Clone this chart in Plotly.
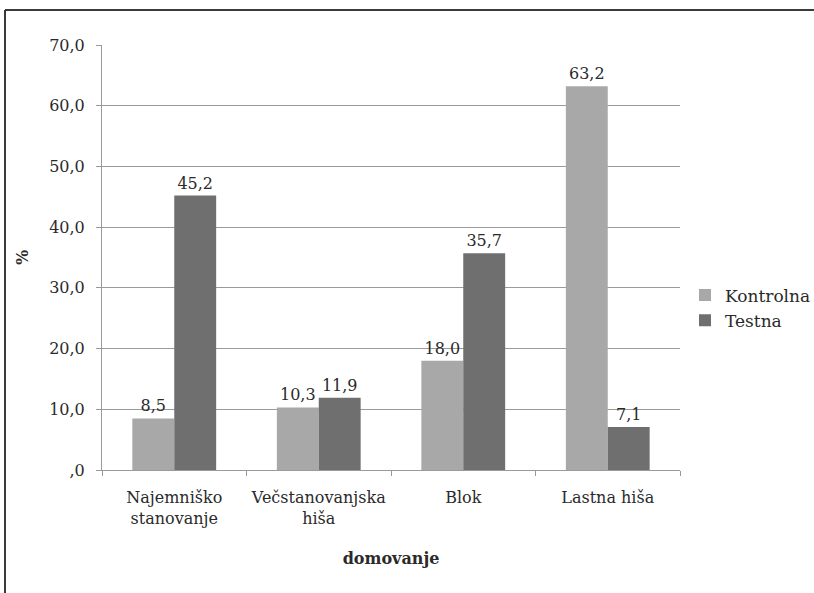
import plotly.graph_objects as go

# Housing type categories (two-line labels) and percentages per group
categories = ["Najemniško<br>stanovanje", "Večstanovanjska<br>hiša", "Blok", "Lastna hiša"]
kontrolna = [8.5, 10.3, 18.0, 63.2]
testna = [45.2, 11.9, 35.7, 7.1]
y_ticks = [0, 10, 20, 30, 40, 50, 60, 70]
y_tick_labels = [",0", "10,0", "20,0", "30,0", "40,0", "50,0", "60,0", "70,0"]


def fmt(v):
    return f"{v:.1f}".replace(".", ",")


FONT = "DejaVu Serif"
TXT = "#2a2a2a"
FS = 16

fig = go.Figure()
fig.add_trace(go.Bar(
    name="Kontrolna", x=categories, y=kontrolna, legendgroup="k",
    marker=dict(color="#a8a8a8", line=dict(width=0)),
    text=[fmt(v) for v in kontrolna], textposition="outside",
    textfont=dict(family=FONT, size=FS, color=TXT), cliponaxis=False,
))
fig.add_trace(go.Bar(
    name="Testna", x=categories, y=testna, legendgroup="t",
    marker=dict(color="#6f6f6f", line=dict(width=0)),
    text=[fmt(v) for v in testna], textposition="outside",
    textfont=dict(family=FONT, size=FS, color=TXT), cliponaxis=False,
))

# Pixel geometry of the plotting area
L, R, T, B = 102, 680, 45, 470
W, H = 814, 593
px = lambda x: (x - L) / (R - L)
py = lambda y: (B - y) / (B - T)

# Outer frame (top and left edges of the chart box)
fig.add_shape(type="line", xref="paper", yref="paper",
              x0=px(5), x1=px(W + 5), y0=py(10), y1=py(10),
              line=dict(color="#3a3a3a", width=2))
fig.add_shape(type="line", xref="paper", yref="paper",
              x0=px(5), x1=px(5), y0=py(10), y1=py(H + 5),
              line=dict(color="#3a3a3a", width=2))

fig.update_layout(
    width=W, height=H,
    margin=dict(l=L, r=W - R, t=T, b=H - B, autoexpand=False),
    paper_bgcolor="white", plot_bgcolor="white",
    barmode="group", bargap=0.42, bargroupgap=0.0,
    font=dict(family=FONT, size=FS, color=TXT),
    showlegend=True,
    legend=dict(x=px(685), y=py(308), xanchor="left", yanchor="middle",
                font=dict(family=FONT, size=17, color=TXT),
                bgcolor="rgba(0,0,0,0)", tracegroupgap=8, itemwidth=30,
                traceorder="normal"),
    xaxis=dict(
        title=dict(text="<b>domovanje</b>", font=dict(family=FONT, size=FS, color=TXT), standoff=25),
        showline=True, linecolor="#9a9a9a", linewidth=1,
        ticks="outside", tickson="boundaries", ticklen=5, tickcolor="#9a9a9a",
        ticklabelstandoff=13,
        tickfont=dict(family=FONT, size=FS, color=TXT),
    ),
    yaxis=dict(
        title=dict(text="<b>%</b>", font=dict(family=FONT, size=FS, color=TXT), standoff=16),
        range=[0, 70], tickvals=y_ticks, ticktext=y_tick_labels,
        showgrid=True, gridcolor="#9a9a9a", gridwidth=1,
        showline=True, linecolor="#9a9a9a", linewidth=1,
        ticks="outside", ticklen=5, tickcolor="#9a9a9a",
        ticklabelstandoff=8,
        tickfont=dict(family=FONT, size=FS, color=TXT),
        zeroline=False,
    ),
)

fig.write_html("out.html")
